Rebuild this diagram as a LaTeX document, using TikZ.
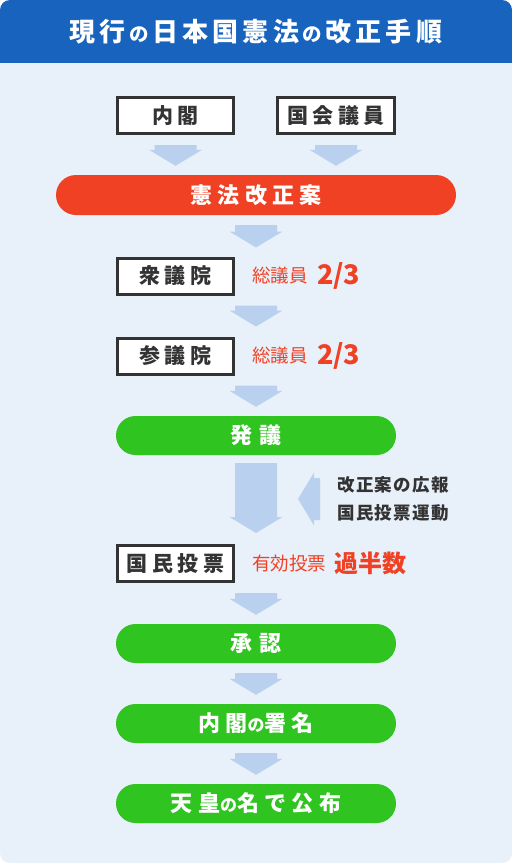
\documentclass[tikz,border=0pt]{standalone}
\usepackage{fontspec}
\setmainfont{Noto Sans CJK JP}
\usetikzlibrary{calc,positioning}
\definecolor{titleblue}{HTML}{1763BE}
\definecolor{cardbg}{HTML}{E8F0FA}
\definecolor{arrowblue}{HTML}{B9D1EE}
\definecolor{alertred}{HTML}{F04124}
\definecolor{stepgreen}{HTML}{2FC41F}
\definecolor{ink}{HTML}{333333}
\newcommand{\tracked}[2]{\fontsize{#1}{#1}\selectfont\bfseries\addfontfeature{LetterSpace=#2}}
\newcommand{\sno}[2][0pt]{\hspace{#1}{\fontsize{#2}{#2}\selectfont の}\hspace{#1}}
% block arrow from #1 (back end) to #2 (tip)
\newcommand{\flowarrow}[2]{%
  \coordinate (fa-s) at (#1);
  \coordinate (fa-t) at (#2);
  \coordinate (fa-b) at ($(fa-t)!16pt!(fa-s)$);
  \fill[arrowblue] ($(fa-s)!21pt!90:(fa-t)$) -- ($(fa-b)!21pt!90:(fa-t)$) -- ($(fa-b)!26.5pt!90:(fa-t)$)
    -- (fa-t) -- ($(fa-b)!26.5pt!-90:(fa-t)$) -- ($(fa-b)!21pt!-90:(fa-t)$) -- ($(fa-s)!21pt!-90:(fa-t)$) -- cycle;}
\tikzset{
  box/.style={draw=ink,line width=3pt,fill=white,minimum width=116pt,minimum height=36pt,inner sep=0pt,text=ink,font=\tracked{21}{22}},
  pill/.style={fill=stepgreen,rounded corners=19.5pt,minimum width=280pt,minimum height=39pt,inner sep=0pt,text=white,font=\tracked{22}{24}},
  pillr/.style={pill,fill=alertred,minimum width=400pt,minimum height=40pt,rounded corners=20pt},
  note/.style={anchor=west,inner sep=0pt,text=alertred,font=\fontsize{18.5}{18.5}\selectfont},
  notebig/.style={inner sep=0pt,text=alertred,font=\tracked{27}{0}},
  side/.style={anchor=west,inner sep=0pt,align=left,text=ink,font=\fontsize{17.5}{28}\selectfont\bfseries\addfontfeature{LetterSpace=8}},
  head/.style={text=white,inner sep=0pt,font=\tracked{26}{16}},
}
\begin{document}
\begin{tikzpicture}[x=1pt,y=-1pt]
\useasboundingbox (0,0) rectangle (512,863);
\begin{scope}
  \clip[rounded corners=10pt] (0,0) rectangle (512,863);
  \fill[cardbg] (0,0) rectangle (512,863);
  \fill[titleblue] (0,0) rectangle (512,63);
\end{scope}
\node[head] (title) at (256,32) {現行\sno[3.5pt]{19.5}日本国憲法\sno[3.5pt]{19.5}改正手順};
\coordinate (axis) at (256,0);
% proposers
\node[box] (naikaku) at (175.5,115.5) {内閣};
\node[box,minimum width=117pt] (giin) at (336,115.5) {国会議員};
\node[pillr] (kenpo) at (256,195) {憲法改正案};
% both houses
\node[box] (shugiin) at (175.5,276) {衆議院};
\node[note] (shunote) at (252,276) {総議員};
\node[notebig,right=9pt of shunote] (shuratio) {2/3};
\node[box] (sangiin) at (175.5,356) {参議院};
\node[note] (sannote) at (252,356) {総議員};
\node[notebig,right=9pt of sannote] (sanratio) {2/3};
\node[pill] (hatsugi) at (256,435.5) {発\hspace{8pt}議};
\node[side] (koho) at (337,499) {改正案の広報\\国民投票運動};
% referendum
\node[box] (kokumin) at (175.5,563.5) {国民投票};
\node[note] (kokunote) at (252,563.5) {有効投票};
\node[notebig,right=8pt of kokunote,font=\tracked{24}{0}] (kahansu) {過半数};
\node[pill] (shonin) at (256,643.5) {承\hspace{8pt}認};
\node[pill] (shomei) at (256,723.5) {内閣\sno{17}署名};
\node[pill] (kofu) at (256,803.5) {天皇\sno{17}名で公布};
% arrows
\flowarrow{[yshift=-10pt]naikaku.south}{[yshift=9pt]naikaku.south |- kenpo.north}
\flowarrow{[yshift=-10pt]giin.south}{[yshift=9pt]giin.south |- kenpo.north}
\flowarrow{[yshift=-10pt]kenpo.south}{[yshift=9pt]axis |- shugiin.north}
\flowarrow{[yshift=-10pt]axis |- shugiin.south}{[yshift=10pt]axis |- sangiin.north}
\flowarrow{[yshift=-10pt]axis |- sangiin.south}{[yshift=9pt]hatsugi.north}
\flowarrow{[yshift=-8pt]hatsugi.south}{[yshift=11pt]axis |- kokumin.north}
\flowarrow{[xshift=-17pt]koho.west}{[xshift=-39pt]koho.west}
\flowarrow{[yshift=-10pt]axis |- kokumin.south}{[yshift=9pt]shonin.north}
\flowarrow{[yshift=-10pt]shonin.south}{[yshift=9pt]shomei.north}
\flowarrow{[yshift=-10pt]shomei.south}{[yshift=9pt]kofu.north}
\end{tikzpicture}
\end{document}
